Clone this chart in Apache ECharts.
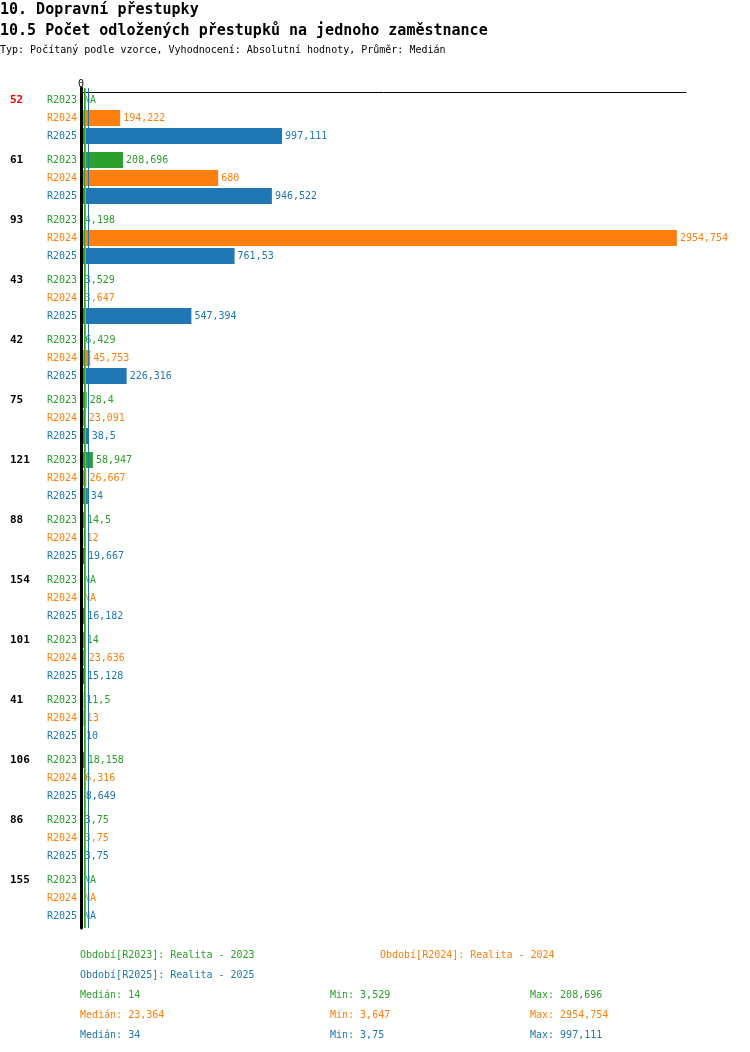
<!DOCTYPE html>
<html>
<head>
<meta charset="utf-8">
<script src="https://cdn.jsdelivr.net/npm/echarts@6/dist/echarts.min.js"></script>
<style>
  html, body { margin: 0; padding: 0; background: #fff; }
  #main { width: 750px; height: 1052px; }
</style>
</head>
<body>
<div id="main"></div>
<script>
// skupiny (kódy) a hodnoty za období, null = NA
const groups = ['52', '61', '93', '43', '42', '75', '121', '88', '154', '101', '41', '106', '86', '155'];
const periods = ['R2023', 'R2024', 'R2025'];
const periodNames = ['Realita - 2023', 'Realita - 2024', 'Realita - 2025'];
const r2023 = [null, 208.696, 4.198, 3.529, 6.429, 28.4, 58.947, 14.5, null, 14, 11.5, 18.158, 3.75, null];
const r2024 = [194.222, 680, 2954.754, 3.647, 45.753, 23.091, 26.667, 12, null, 23.636, 13, 6.316, 3.75, null];
const r2025 = [997.111, 946.522, 761.53, 547.394, 226.316, 38.5, 34, 19.667, 16.182, 15.128, 10, 8.649, 3.75, null];
const xTicks = [0, 3000];

const colors = ['#2ca02c', '#ff7f0e', '#1f77b4'];
const FONT = "'DejaVu Sans Mono', 'Liberation Mono', monospace";

const seriesValues = [r2023, r2024, r2025];

function fmt(v) {
  return String(Math.round(v * 1000) / 1000).replace('.', ',');
}

function stats(arr) {
  const vals = arr.filter(v => v !== null).sort((a, b) => a - b);
  const n = vals.length;
  const median = n % 2 ? vals[(n - 1) / 2] : (vals[n / 2 - 1] + vals[n / 2]) / 2;
  return { median, min: vals[0], max: vals[n - 1] };
}

const seriesStats = seriesValues.map(stats);

const series = seriesValues.map((arr, i) => ({
  name: periods[i],
  type: 'bar',
  barWidth: 16,
  barGap: '12.5%',
  itemStyle: { color: colors[i] },
  label: {
    show: true,
    position: 'right',
    distance: 3,
    color: colors[i],
    fontFamily: FONT,
    fontSize: 10,
    formatter: p => (p.data && p.data.na) ? 'NA' : fmt(p.value)
  },
  data: arr.map(v => v === null ? { value: 0, na: true } : v),
  markLine: {
    silent: true,
    symbol: 'none',
    label: { show: false },
    lineStyle: { color: colors[i], width: 1, type: 'solid' },
    data: [{ xAxis: seriesStats[i].median }]
  },
  animation: false
}));

const rich = {
  r: { color: '#ff0000', fontWeight: 'bold', fontSize: 11, fontFamily: FONT, width: 37, align: 'left' },
  n: { color: '#000', fontWeight: 'bold', fontSize: 11, fontFamily: FONT, width: 37, align: 'left' }
};
periods.forEach((p, i) => {
  rich['p' + i] = { color: colors[i], fontSize: 10, fontFamily: FONT, lineHeight: 18 };
});

// nadpisy, legenda a statistiky dole
const graphics = [
  { type: 'text', left: 0, top: 3, style: { text: '10. Dopravní přestupky', font: 'bold 15px ' + FONT, fill: '#000' } },
  { type: 'text', left: 0, top: 24, style: { text: '10.5 Počet odložených přestupků na jednoho zaměstnance', font: 'bold 15px ' + FONT, fill: '#000' } },
  { type: 'text', left: 0, top: 45, style: { text: 'Typ: Počítaný podle vzorce, Vyhodnocení: Absolutní hodnoty, Průměr: Medián', font: '10px ' + FONT, fill: '#000' } }
];
const legendPos = [[80, 950], [380, 950], [80, 970]];
periods.forEach((p, i) => {
  graphics.push({
    type: 'text', left: legendPos[i][0], top: legendPos[i][1],
    style: { text: 'Období[' + p + ']: ' + periodNames[i], font: '10px ' + FONT, fill: colors[i] }
  });
});
seriesStats.forEach((s, i) => {
  const y = 990 + i * 20;
  graphics.push({ type: 'text', left: 80, top: y, style: { text: 'Medián: ' + fmt(s.median), font: '10px ' + FONT, fill: colors[i] } });
  graphics.push({ type: 'text', left: 330, top: y, style: { text: 'Min: ' + fmt(s.min), font: '10px ' + FONT, fill: colors[i] } });
  graphics.push({ type: 'text', left: 530, top: y, style: { text: 'Max: ' + fmt(s.max), font: '10px ' + FONT, fill: colors[i] } });
});

const chart = echarts.init(document.getElementById('main'));
chart.setOption({
  animation: false,
  backgroundColor: '#fff',
  textStyle: { fontFamily: FONT },
  grid: { left: 81, right: 64, top: 88, height: 840 },
  xAxis: {
    type: 'value',
    position: 'top',
    offset: -4,
    min: xTicks[0],
    max: xTicks[xTicks.length - 1],
    interval: xTicks[1] - xTicks[0],
    axisLine: { show: true, lineStyle: { color: '#000', width: 1 } },
    axisTick: { show: false },
    splitLine: { show: false },
    axisLabel: { showMaxLabel: false, color: '#000', fontSize: 10, fontFamily: FONT, margin: 3 }
  },
  yAxis: {
    type: 'category',
    inverse: true,
    z: 5,
    data: groups,
    axisLine: { show: true, lineStyle: { color: '#000', width: 3 } },
    axisTick: { show: false },
    axisLabel: {
      margin: 4,
      interval: 0,
      formatter: (v, idx) => {
        const tag = idx === 0 ? 'r' : 'n';
        return '{' + tag + '|' + v + '}{p0|' + periods[0] + '}\n{p1|' + periods[1] + '}\n{p2|' + periods[2] + '}';
      },
      rich: rich
    }
  },
  series: series,
  graphic: graphics
});
</script>
</body>
</html>
